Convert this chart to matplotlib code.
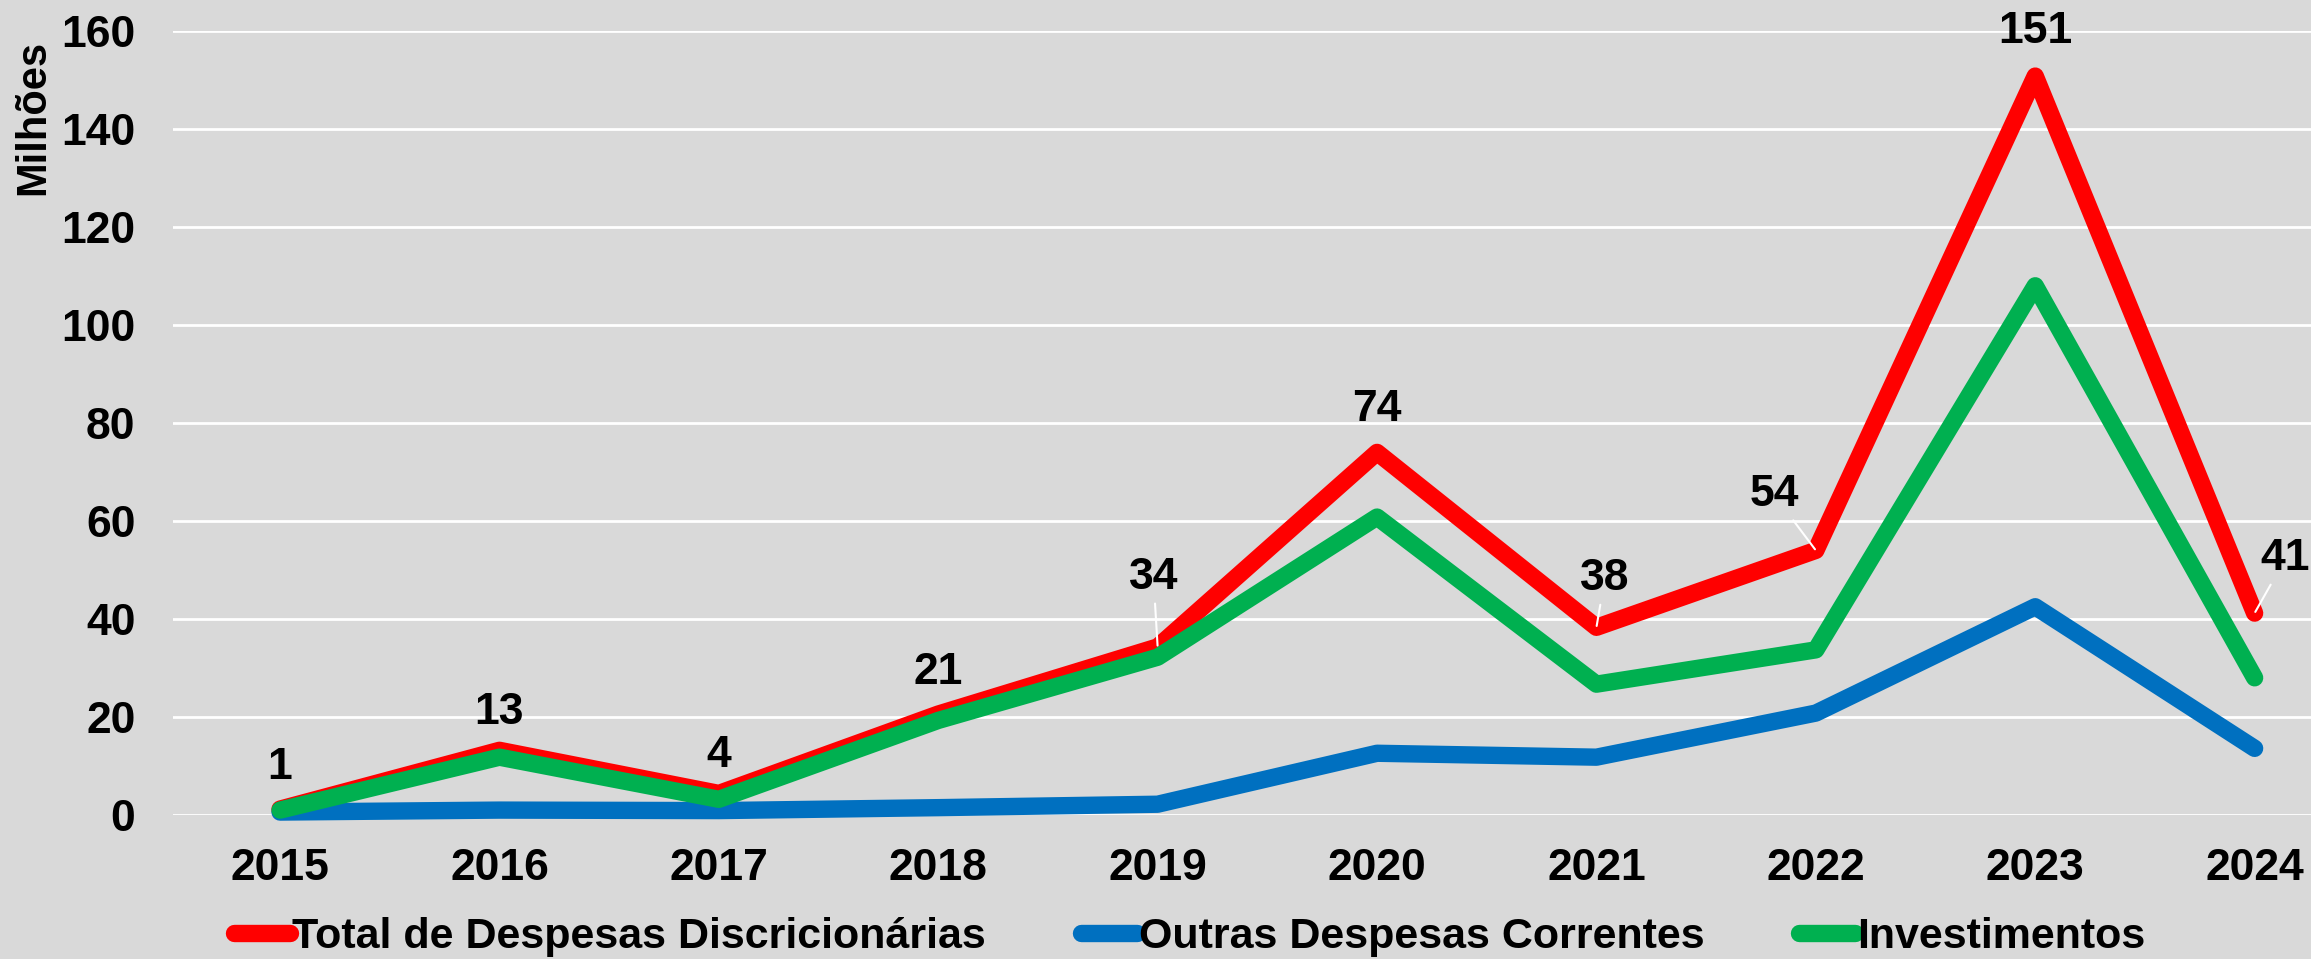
import matplotlib.pyplot as plt
import numpy as np

# Dados (milhões)
anos = ["2015", "2016", "2017", "2018", "2019", "2020", "2021", "2022", "2023", "2024"]
total_discricionarias = [1.2, 13.2, 4.4, 20.6, 34.3, 74.0, 38.3, 54.0, 150.8, 41.2]
outras_correntes = [0.6, 1.0, 0.9, 1.5, 2.2, 12.6, 11.8, 20.8, 42.5, 13.6]
investimentos = [1.0, 11.8, 3.2, 19.3, 32.2, 60.8, 26.7, 33.7, 108.0, 28.0]
rotulos = ["1", "13", "4", "21", "34", "74", "38", "54", "151", "41"]

# deslocamento dos rótulos (pontos) e se tem linha de chamada
desloc = [(0, 30), (0, 27), (0, 27), (0, 30), (-3, 50), (0, 31), (6, 35), (-30, 40), (0, 32), (22, 39)]
chamada = [False, False, False, False, True, False, True, True, False, True]

plt.rcParams['font.family'] = ['Liberation Sans', 'DejaVu Sans']
plt.rcParams['font.weight'] = 'bold'

W, H = 2311, 959
fig = plt.figure(figsize=(W / 100, H / 100), dpi=100)
fig.patch.set_facecolor('#d9d9d9')
ax = fig.add_axes([173 / W, 1 - 815 / H, (W - 173) / W, (815 - 31) / H])
ax.set_facecolor('#d9d9d9')

x = np.arange(len(anos))
estilo = dict(linewidth=12.5, solid_capstyle='round', solid_joinstyle='round', clip_on=False)
l1, = ax.plot(x, total_discricionarias, color='#ff0000', zorder=3, label='Total de Despesas Discricionárias', **estilo)
l2, = ax.plot(x, outras_correntes, color='#0070c0', zorder=2, label='Outras Despesas Correntes', **estilo)
l3, = ax.plot(x, investimentos, color='#00b050', zorder=4, label='Investimentos', **estilo)

for i, (txt, (dx, dy), ch) in enumerate(zip(rotulos, desloc, chamada)):
    props = None
    if ch:
        props = dict(arrowstyle='-', color='white', lw=1.5, shrinkA=2, shrinkB=1)
    ax.annotate(txt, (x[i], total_discricionarias[i]), xytext=(dx, dy), textcoords='offset points',
                ha='center', va='center', fontsize=32, fontweight='bold', color='black',
                arrowprops=props, zorder=6, annotation_clip=False)

ax.set_xlim(-0.488, 9.257)
ax.set_ylim(0, 160)
ax.set_yticks(range(0, 161, 20))
ax.set_xticks(x)
ax.set_xticklabels(anos)
ax.tick_params(axis='both', length=0, labelsize=32)
ax.tick_params(axis='x', pad=24)
ax.tick_params(axis='y', pad=27)
ax.grid(True, axis='y', color='white', linewidth=2)
ax.set_axisbelow(True)
for s in ax.spines.values():
    s.set_visible(False)

fig.text(33 / W, 1 - 117 / H, 'Milhões', rotation=90, ha='center', va='center', fontsize=30, fontweight='bold')

leg = fig.legend(handles=[l1, l2, l3], loc='center', bbox_to_anchor=(1190 / W, 1 - 937 / H), ncol=3,
                 frameon=False, fontsize=31, handlelength=1.3, handletextpad=0.05, columnspacing=2.2)

fig.savefig('out.png', dpi=100, facecolor=fig.get_facecolor())
